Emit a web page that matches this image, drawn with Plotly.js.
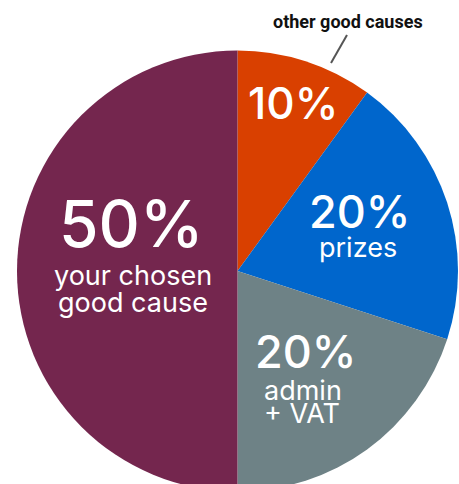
<!DOCTYPE html>
<html><head><meta charset="utf-8">
<script src="https://cdn.plot.ly/plotly-3.0.1.min.js"></script>
<style>html,body{margin:0;padding:0;overflow:hidden;background:#fff}</style>
</head><body><div id="chart"></div>
<script>
const categories = ["other good causes", "prizes", "admin + VAT", "your chosen good cause"];
const values = [10, 20, 20, 50];
const colors = ["#D94000", "#0066CC", "#6E8286", "#74264E"];
const pctLabels = values.map(v => v + "%");
const labelLines = [["other good causes"], ["prizes"], ["admin", "+ VAT"], ["your chosen", "good cause"]];

const W = 459, H = 492;
const px = x => x / W, py = y => 1 - y / H;
const font = "Inter, 'Open Sans', sans-serif";

const trace = {
  type: "pie", values: values, labels: categories, sort: false, direction: "clockwise",
  rotation: 0, marker: {colors: colors, line: {width: 0}}, textinfo: "none", hoverinfo: "none",
  domain: {x: [17 / W, 458 / W], y: [0, (H - 50) / H]}, showlegend: false
};

const ann = (t, x, y, size, weight, opts) => Object.assign({
  text: t, x: px(x), y: py(y), xref: "paper", yref: "paper", showarrow: false,
  xanchor: "center", yanchor: "middle", font: {family: font, size: size, color: "#fff", weight: weight}
}, opts || {});

const annotations = [
  ann(pctLabels[0], 293, 103, 44, 500),
  ann(pctLabels[1], 359, 211, 45, 500),
  ann(labelLines[1][0], 358, 248, 27, 400),
  ann(pctLabels[3], 131, 223, 64, 500),
  ann(labelLines[3][0], 133, 275, 27, 400),
  ann(labelLines[3][1], 133, 302, 27, 400),
  ann(pctLabels[2], 305, 351, 45, 500),
  ann(labelLines[2][0], 262, 390, 27, 400, {xanchor: "left"}),
  ann(labelLines[2][1], 262, 413, 27, 400, {xanchor: "left"}),
  ann(labelLines[0][0], 348, 21, 18, 700, {font: {family: "Roboto, sans-serif", size: 18, color: "#111", weight: 700}})
];

const layout = {
  width: W, height: H, margin: {l: 0, r: 0, t: 0, b: 0},
  paper_bgcolor: "#fff", plot_bgcolor: "#fff",
  annotations: annotations,
  shapes: [{type: "line", xref: "paper", yref: "paper", x0: px(347), y0: py(35), x1: px(331), y1: py(63),
            line: {color: "#555", width: 2}}]
};
Plotly.newPlot("chart", [trace], layout, {staticPlot: true, displayModeBar: false});
</script></body></html>
